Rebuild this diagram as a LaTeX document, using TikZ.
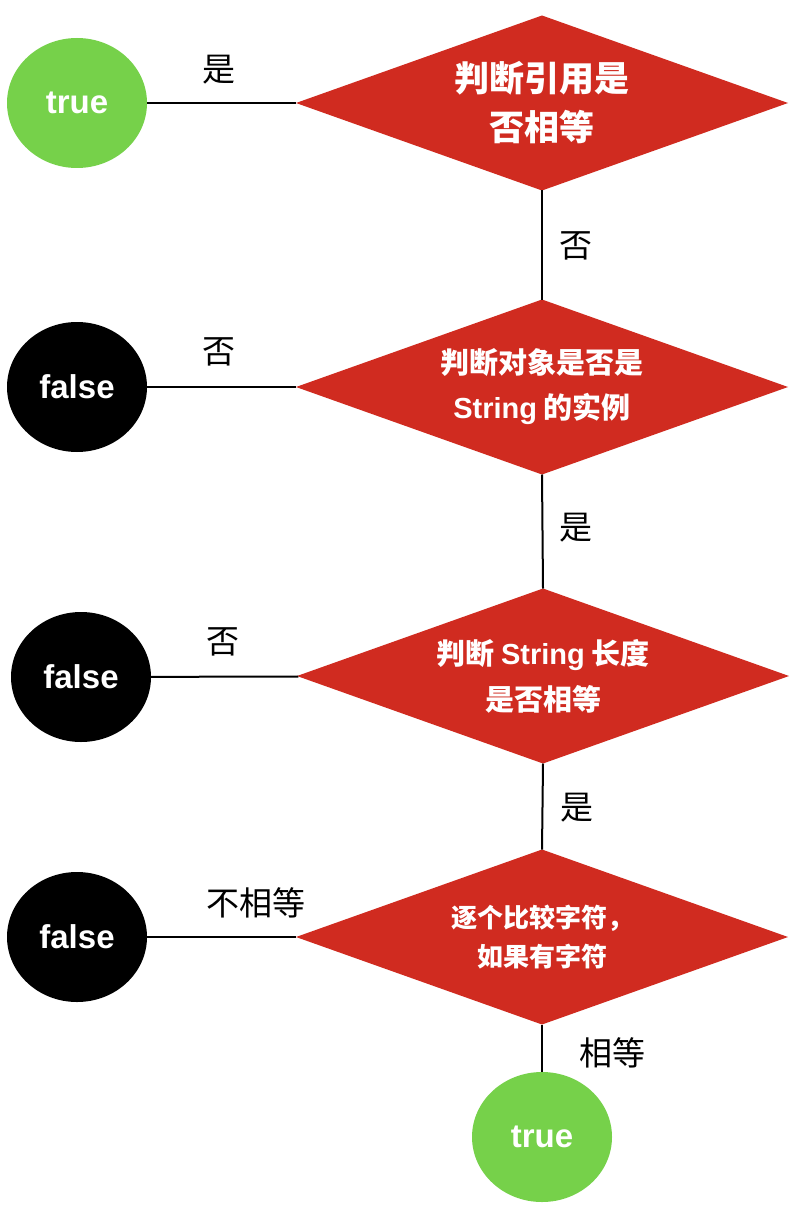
\documentclass[tikz,border=0pt]{standalone}
\usepackage{fontspec}
\setmainfont{Noto Sans CJK SC}
\newfontfamily\latinsans{Liberation Sans}
\usetikzlibrary{shapes.geometric}
\definecolor{dred}{RGB}{208,43,32}
\definecolor{tgreen}{RGB}{118,209,74}
\begin{document}
\begin{tikzpicture}[x=1pt,y=-1pt,
  decision/.style={diamond, aspect=2.81, fill=dred, draw=none, inner sep=0pt, outer sep=0pt,
    minimum width=492pt, minimum height=175pt, text=white, align=center},
  endnode/.style={ellipse, inner sep=0pt, outer sep=0pt, minimum width=140pt,
    minimum height=130pt, text=white, font=\latinsans\bfseries\fontsize{33}{40}\selectfont},
  truenode/.style={endnode, fill=tgreen},
  falsenode/.style={endnode, fill=black},
  lbl/.style={inner sep=0pt, font=\fontsize{33}{40}\selectfont},
  link/.style={line width=2pt, draw=black}]
\fill[white] (0,0) rectangle (794,1206);
\useasboundingbox (0,0) rectangle (794,1206);
% decisions
\node[decision, font=\bfseries\fontsize{35}{49}\selectfont] (d1) at (542,103) {判断引用是\\否相等};
\node[decision, font=\bfseries\fontsize{29}{45}\selectfont] (d2) at (542,387) {判断对象是否是\\{\latinsans String} 的实例};
\node[decision, font=\bfseries\fontsize{29}{46}\selectfont] (d3) at (543,676) {判断 {\latinsans String} 长度\\是否相等};
\node[decision, font=\bfseries\fontsize{26}{39}\selectfont] (d4) at (542,937) {逐个比较字符，\\如果有字符};
% end nodes
\node[truenode] (t1) at (77,103) {true};
\node[falsenode] (f2) at (77,387) {false};
\node[falsenode] (f3) at (81,677) {false};
\node[falsenode] (f4) at (77,937) {false};
\node[truenode] (t5) at (542,1137) {true};
% connectors
\draw[link] (t1) -- (d1);
\draw[link] (f2) -- (d2);
\draw[link] (f3) -- (d3);
\draw[link] (f4) -- (d4);
\draw[link] (d1.south) -- (d2.north);
\draw[link] (d2.south) -- (d3.north);
\draw[link] (d3.south) -- (d4.north);
\draw[link] (d4.south) -- (t5.north);
% labels
\node[lbl] (l1) at (219,70) {是};
\node[lbl] (l2) at (576,246) {否};
\node[lbl] (l3) at (219,352) {否};
\node[lbl] (l4) at (576,528) {是};
\node[lbl] (l5) at (223,642) {否};
\node[lbl] (l6) at (577,808) {是};
\node[lbl] (l7) at (256,903) {不相等};
\node[lbl] (l8) at (612,1053) {相等};
\end{tikzpicture}
\end{document}
